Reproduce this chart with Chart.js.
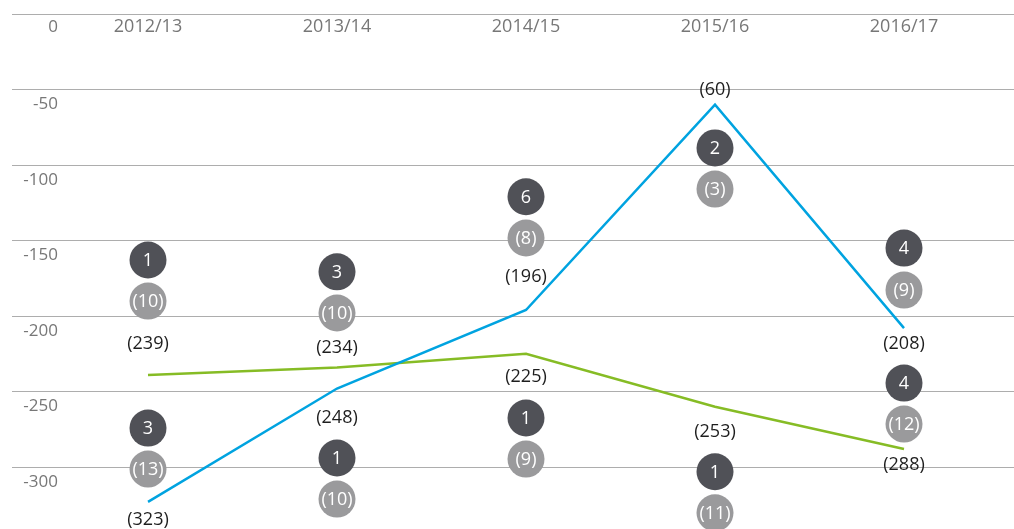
<!DOCTYPE html>
<html><head><meta charset="utf-8">
<script src="https://cdn.jsdelivr.net/npm/chart.js@4"></script>
<style>html,body{margin:0;padding:0;background:#fff}#wrap{width:1014px;height:529px;position:relative}</style>
</head><body><div id="wrap"><canvas id="c"></canvas></div>
<script>
// ---- data ----
const categories = ['2012/13', '2013/14', '2014/15', '2015/16', '2016/17'];
const yTicks = [0, -50, -100, -150, -200, -250, -300];

const blueValues  = [-323, -248, -196, -60, -208];
const greenValues = [-239, -234, -225, -260, -288];

const blueLabels  = ['(323)', '(248)', '(196)', '(60)', '(208)'];
const greenLabels = ['(239)', '(234)', '(225)', '(253)', '(288)'];
const blueLabelY  = [-335.1, -267.5, -174.0, -50.3, -218.5];
const greenLabelY = [-218.1, -221.2, -240.2, -276.6, -298.7];

const darkUpperText = ['1', '3', '6', '2', '4'];
const darkUpperY    = [-162.9, -170.7, -121.0, -88.7, -155.0];
const greyUpperText = ['(10)', '(10)', '(8)', '(3)', '(9)'];
const greyUpperY    = [-190.1, -198.0, -148.3, -115.9, -182.8];
const darkLowerText = ['3', '1', '1', '1', '4'];
const darkLowerY    = [-274.2, -294.0, -267.5, -303.1, -244.4];
const greyLowerText = ['(13)', '(10)', '(9)', '(11)', '(12)'];
const greyLowerY    = [-301.3, -321.2, -294.7, -330.3, -271.5];

// ---- styles ----
const FONT = '"Open Sans", "Noto Sans", sans-serif';
const BLUE = '#00a3e0', GREEN = '#86bc25', DARK = '#505157', GREY = '#9a9a9c';

const pts = arr => arr.map((v, i) => ({ x: i, y: v }));

function circleSet(yArr, texts, color) {
  return { type: 'scatter', data: pts(yArr), texts: texts, isCircle: true,
    pointRadius: 18.5, pointHoverRadius: 18.5, pointBackgroundColor: color,
    pointBorderWidth: 0, borderWidth: 0, showLine: false };
}

const textPlugin = {
  id: 'texts',
  afterDatasetsDraw(chart) {
    const ctx = chart.ctx, xs = chart.scales.x, ys = chart.scales.y;
    ctx.save();
    // y tick labels
    ctx.font = '17px ' + FONT; ctx.fillStyle = '#777'; ctx.textAlign = 'right'; ctx.textBaseline = 'middle';
    yTicks.forEach(v => ctx.fillText(String(v), 58, ys.getPixelForValue(v) + (v === 0 ? 13 : 15)));
    // category labels
    ctx.font = '18px ' + FONT; ctx.textAlign = 'center';
    categories.forEach((c, i) => ctx.fillText(c, xs.getPixelForValue(i), ys.getPixelForValue(0) + 13));
    // line value labels
    ctx.font = '18px ' + FONT; ctx.fillStyle = '#1e1e1e';
    blueLabels.forEach((t, i) => ctx.fillText(t, xs.getPixelForValue(i), ys.getPixelForValue(blueLabelY[i])));
    greenLabels.forEach((t, i) => ctx.fillText(t, xs.getPixelForValue(i), ys.getPixelForValue(greenLabelY[i])));
    // circle texts
    ctx.font = '18px ' + FONT; ctx.fillStyle = '#fff';
    chart.data.datasets.forEach((ds, di) => {
      if (!ds.isCircle) return;
      chart.getDatasetMeta(di).data.forEach((p, i) => ctx.fillText(ds.texts[i], p.x, p.y + 1));
    });
    ctx.restore();
  }
};

new Chart(document.getElementById('c'), {
  type: 'line',
  data: {
    datasets: [
      circleSet(darkUpperY, darkUpperText, DARK),
      circleSet(greyUpperY, greyUpperText, GREY),
      circleSet(darkLowerY, darkLowerText, DARK),
      circleSet(greyLowerY, greyLowerText, GREY),
      { type: 'line', data: pts(blueValues), borderColor: BLUE, borderWidth: 2.5, pointRadius: 0, tension: 0, fill: false },
      { type: 'line', data: pts(greenValues), borderColor: GREEN, borderWidth: 2.5, pointRadius: 0, tension: 0, fill: false }
    ]
  },
  options: {
    responsive: true, maintainAspectRatio: false, animation: false,
    layout: { autoPadding: false, padding: { left: 12, top: 14, right: 0, bottom: 0 } },
    plugins: { legend: { display: false }, tooltip: { enabled: false } },
    events: [],
    scales: {
      x: { type: 'linear', min: -0.7196, max: 4.582, display: false },
      y: {
        min: -341, max: 0,
        afterBuildTicks: s => { s.ticks = yTicks.map(v => ({ value: v })); },
        ticks: { display: false },
        border: { display: false },
        grid: { color: '#adadad', lineWidth: 1, drawTicks: false }
      }
    }
  },
  plugins: [textPlugin]
});
</script></body></html>
